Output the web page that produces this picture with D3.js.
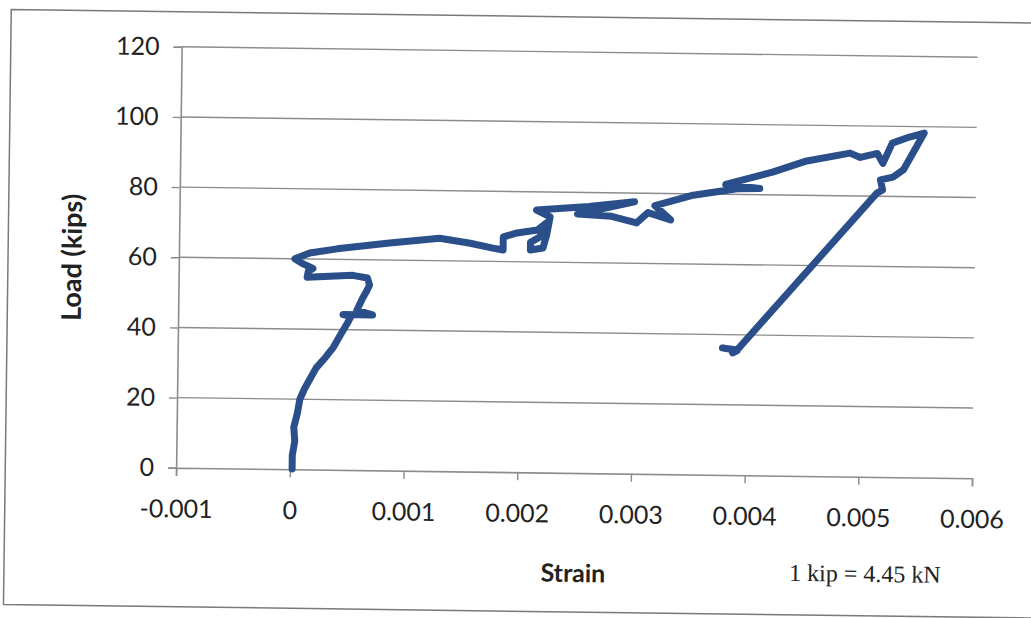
<!DOCTYPE html>
<html>
<head>
<meta charset="utf-8">
<script src="https://cdn.jsdelivr.net/npm/d3@7"></script>
<style>
  html, body { margin: 0; padding: 0; background: #ffffff; }
  svg { display: block; }
</style>
</head>
<body>
<div id="chart"></div>
<script>
// ---- data ----
const strain = [
  0.00002, 0.00002, 0.00004, 0.00003, 0.00006, 0.00008, 0.00012, 0.00017, 0.00022, 0.00030,
  0.00037, 0.00043, 0.00049, 0.00052, 0.00045, 0.00071, 0.00057, 0.00062, 0.00066, 0.00068,
  0.00066, 0.00053, 0.00013, 0.00014, 0.00018, 0.00008, 0.00002, 0.00015, 0.00039, 0.00083,
  0.00129, 0.00156, 0.00176, 0.00185, 0.00185, 0.00197, 0.00215, 0.00223, 0.00217, 0.00209,
  0.00209, 0.00220, 0.00223, 0.00226, 0.00214, 0.00260, 0.00300, 0.00250, 0.00280, 0.00302,
  0.00312, 0.00332, 0.00318, 0.00350, 0.00390, 0.00410, 0.00380, 0.00421, 0.00451, 0.00489,
  0.00498, 0.00513, 0.00518, 0.00526, 0.00541, 0.00554, 0.00536, 0.00527, 0.00516, 0.00518,
  0.00513, 0.00392, 0.00379, 0.00392, 0.00388
];
const load = [
  0.1, 4, 8, 12, 16, 20, 23, 26, 29, 32,
  35, 38.5, 41.9, 43.8, 44.3, 44.3, 45.5, 49, 51.4, 52.8,
  54.8, 55.5, 54.8, 56.5, 57.3, 58.8, 60.0, 61.7, 63.0, 64.8,
  66.4, 65.1, 63.8, 63.3, 67.0, 68.2, 69.1, 71.2, 67.1, 65.6,
  63.4, 64.0, 67.5, 72.9, 74.8, 76.0, 77.5, 73.8, 73.3, 71.5,
  74.5, 72.5, 76.5, 79.5, 81.6, 81.8, 82.8, 86.5, 89.8, 92.2,
  91.0, 92.2, 89.4, 95.2, 97.0, 98.2, 87.6, 85.5, 84.7, 81.8,
  80.9, 35.7, 36.2, 35.5, 34.8
];
const xTicks = [-0.001, 0, 0.001, 0.002, 0.003, 0.004, 0.005, 0.006];
const xTickLabels = ["-0.001", "0", "0.001", "0.002", "0.003", "0.004", "0.005", "0.006"];
const yTicks = [0, 20, 40, 60, 80, 100, 120];
const xTitle = "Strain";
const yTitle = "Load (kips)";
const note = "1 kip = 4.45 kN";

// ---- layout ----
const W = 1031, H = 618;
const plot = { left: 178.85, right: 974.85, top: 52, bottom: 473 };
const tilt = 0.75; // the scanned page is slightly rotated

const svg = d3.select("#chart").append("svg")
  .attr("width", W).attr("height", H);
svg.append("rect").attr("width", W).attr("height", H).attr("fill", "#ffffff");

const g = svg.append("g")
  .attr("transform", `rotate(${tilt}, ${(plot.left + plot.right) / 2}, ${(plot.top + plot.bottom) / 2})`);

// outer chart border
g.append("path")
  .attr("d", `M1060,17 L8,17 L8,612 L1060,612`)
  .attr("fill", "none").attr("stroke", "#7a7a7a").attr("stroke-width", 1.5);

const x = d3.scaleLinear().domain([-0.001, 0.006]).range([plot.left, plot.right]);
const y = d3.scaleLinear().domain([0, 120]).range([plot.bottom, plot.top]);

const gridColor = "#8c8c8c";
const font = "Lato, 'Open Sans', sans-serif";

// horizontal gridlines
g.append("g").selectAll("line").data(yTicks.filter(d => d > 0)).join("line")
  .attr("x1", plot.left).attr("x2", plot.right)
  .attr("y1", d => y(d)).attr("y2", d => y(d))
  .attr("stroke", gridColor).attr("stroke-width", 1.4);

// y axis
const yAxis = g.append("g").attr("transform", `translate(${plot.left},0)`)
  .call(d3.axisLeft(y).tickValues(yTicks).tickSize(8).tickPadding(14).tickFormat(d => String(d)));
yAxis.select(".domain").attr("stroke", gridColor).attr("stroke-width", 1.6);
yAxis.selectAll(".tick line").attr("stroke", gridColor).attr("stroke-width", 1.4);
yAxis.selectAll(".tick text").attr("font-family", font).attr("font-size", 25).attr("fill", "#222");

// x axis
const xAxis = g.append("g").attr("transform", `translate(0,${plot.bottom})`)
  .call(d3.axisBottom(x).tickValues(xTicks).tickSize(8).tickPadding(24)
    .tickFormat((d, i) => xTickLabels[i]));
xAxis.select(".domain").attr("stroke", gridColor).attr("stroke-width", 1.6);
xAxis.selectAll(".tick line").attr("stroke", gridColor).attr("stroke-width", 1.4);
xAxis.selectAll(".tick text").attr("font-family", font).attr("font-size", 25).attr("fill", "#222");

// data line
const pts = strain.map((s, i) => [s, load[i]]);
const line = d3.line().x(d => x(d[0])).y(d => y(d[1]));
g.append("path").datum(pts)
  .attr("d", line)
  .attr("fill", "none")
  .attr("stroke", "#2a4f8a")
  .attr("stroke-width", 7)
  .attr("stroke-linejoin", "round")
  .attr("stroke-linecap", "round");

// titles
g.append("text")
  .attr("transform", `translate(72,264) rotate(-90)`)
  .attr("text-anchor", "middle").attr("dy", "0.35em")
  .attr("font-family", font).attr("font-weight", "bold").attr("font-size", 27)
  .attr("fill", "#222").text(yTitle);

g.append("text")
  .attr("x", 577).attr("y", 582)
  .attr("text-anchor", "middle")
  .attr("font-family", font).attr("font-weight", "bold").attr("font-size", 25)
  .attr("fill", "#222").text(xTitle);

g.append("text")
  .attr("x", 869).attr("y", 578)
  .attr("text-anchor", "middle")
  .attr("font-family", "'Liberation Serif', 'Times New Roman', serif").attr("font-size", 24)
  .attr("fill", "#222").text(note);
</script>
</body>
</html>
